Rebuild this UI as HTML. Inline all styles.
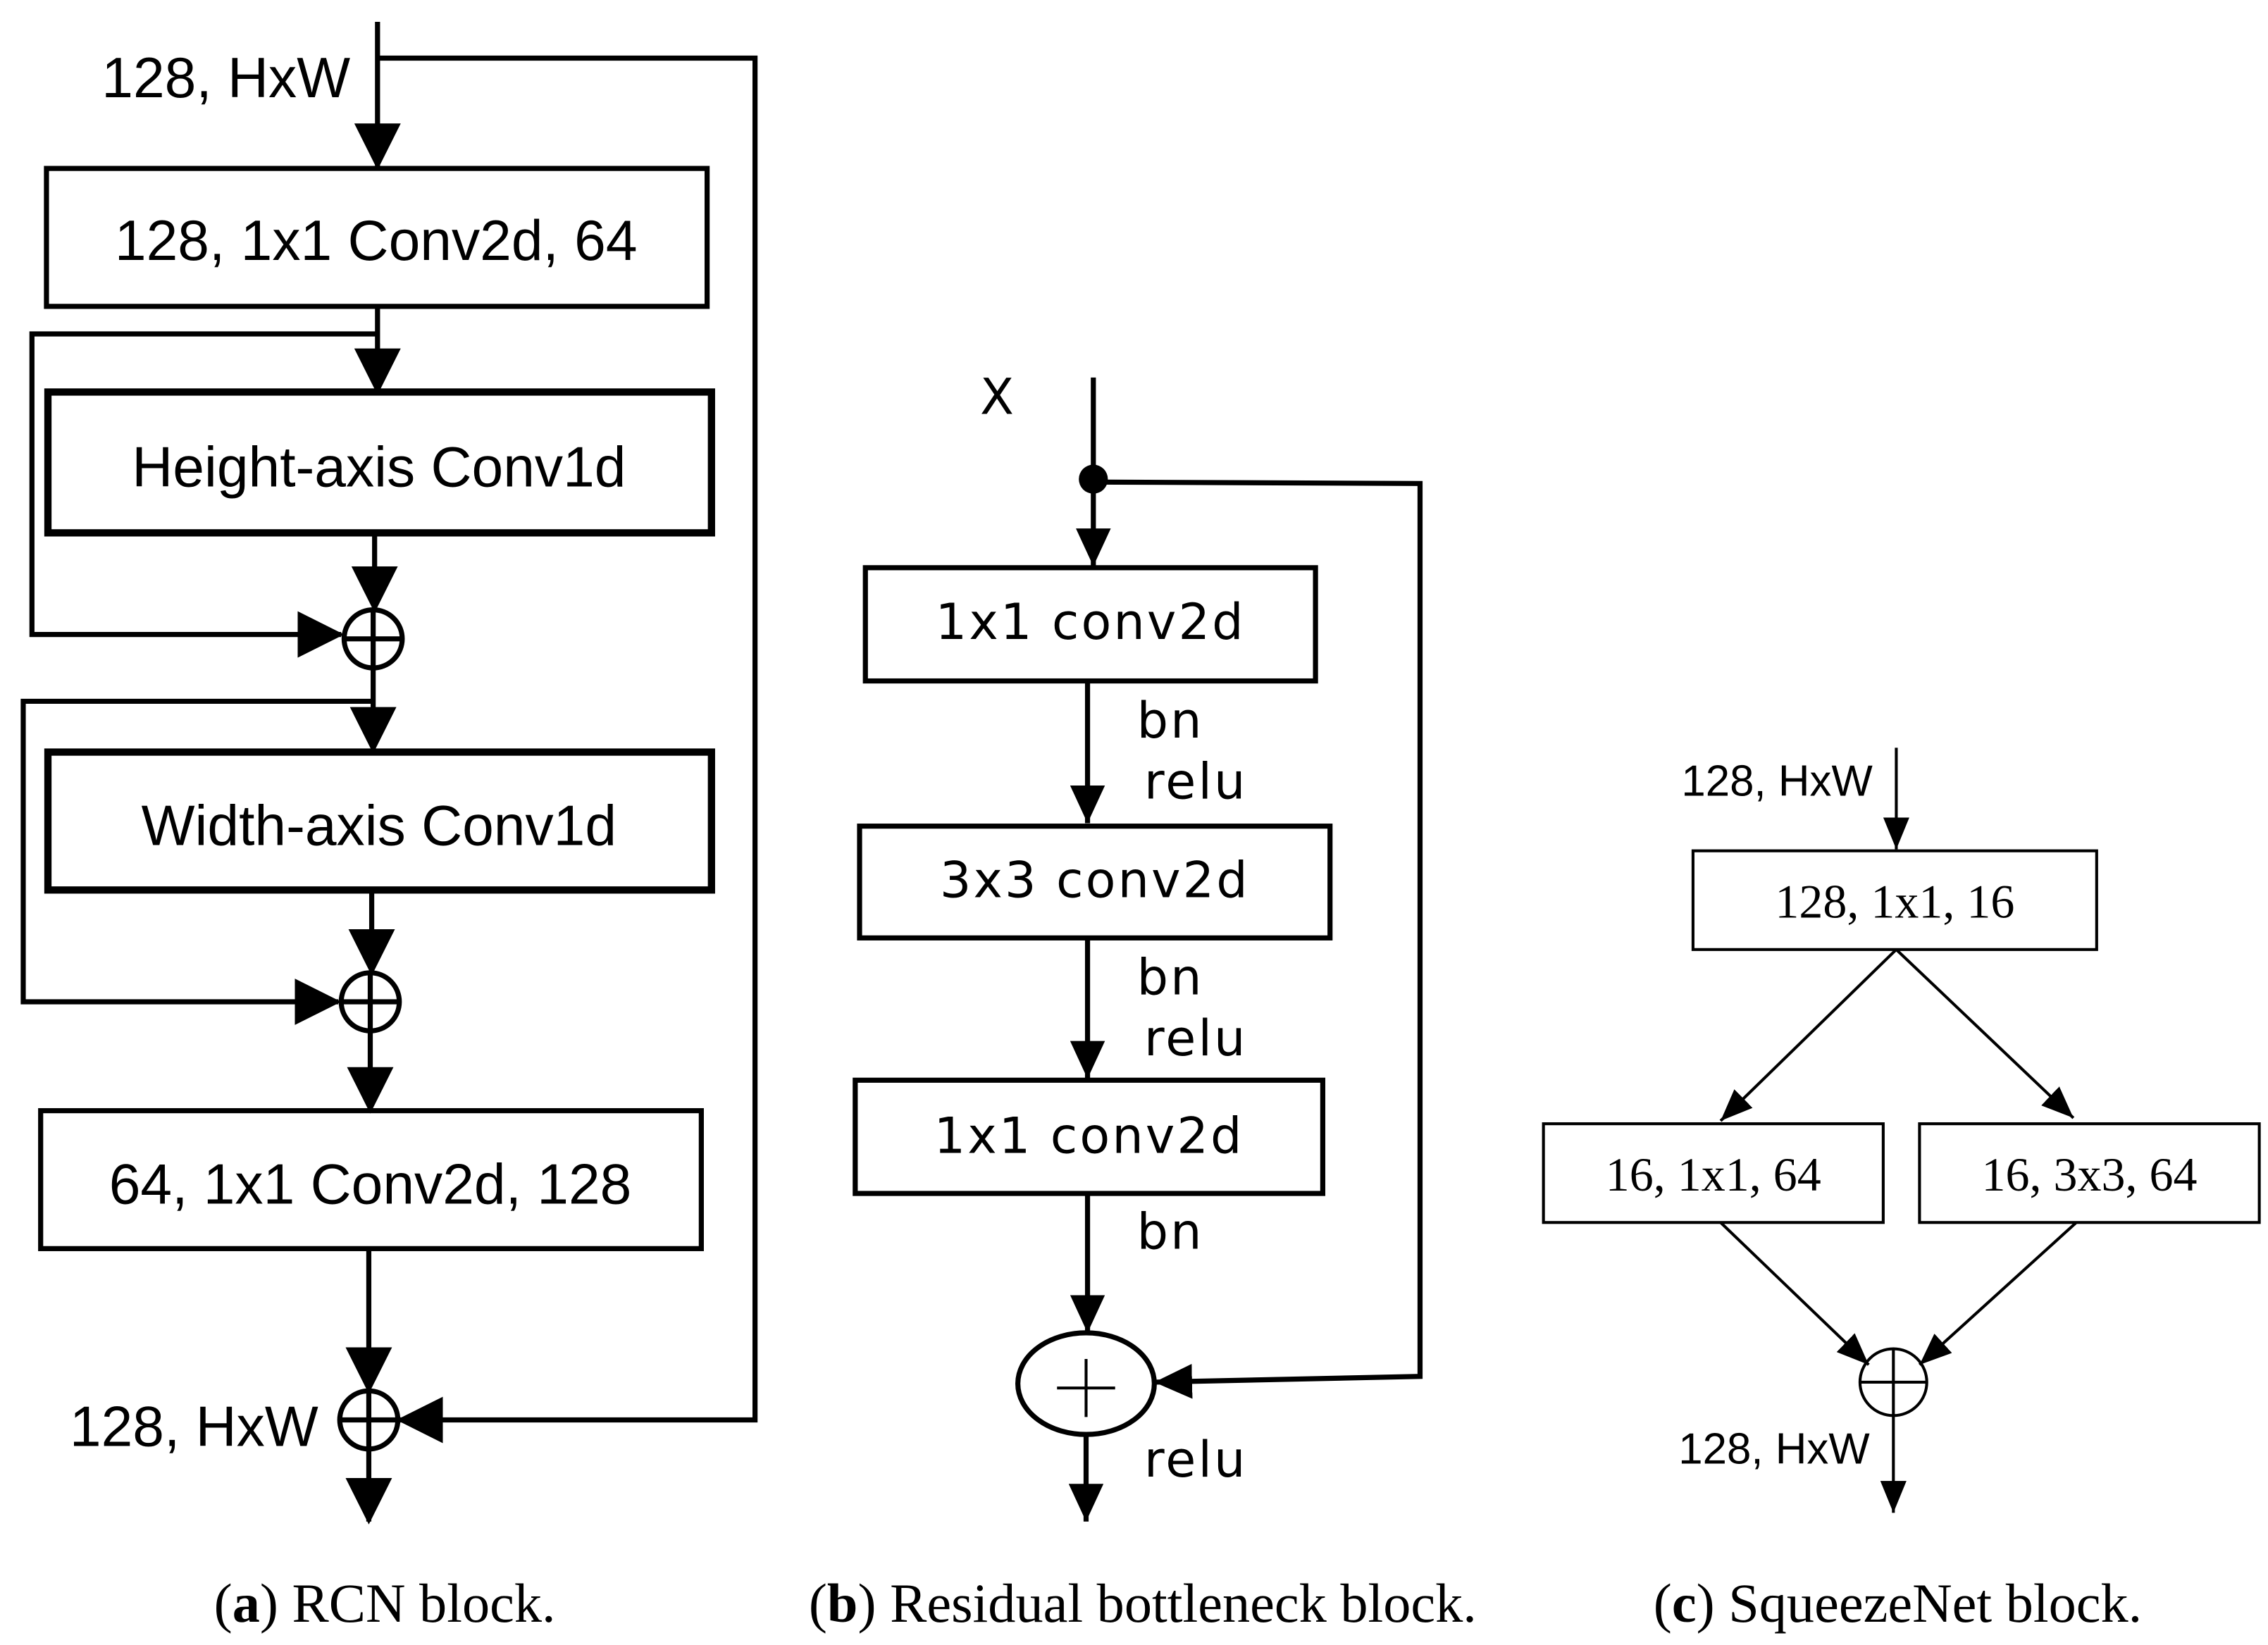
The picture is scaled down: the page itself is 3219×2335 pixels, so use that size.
<!DOCTYPE html>
<html><head><meta charset="utf-8"><style>
html,body{margin:0;padding:0;background:#fff}
svg{display:block}
.s{font-family:"DejaVu Sans","Liberation Sans",sans-serif}
.r{font-family:"Liberation Serif",serif}
</style></head><body>
<svg width="3219" height="2335" viewBox="0 0 1562 1133" xmlns="http://www.w3.org/2000/svg">
<defs>
<marker id="A" markerUnits="userSpaceOnUse" markerWidth="32" markerHeight="32" refX="30" refY="16" orient="auto"><path d="M0,0 L32,16 L0,32 z" fill="#000"/></marker>
<marker id="B" markerUnits="userSpaceOnUse" markerWidth="26" markerHeight="24" refX="26" refY="12" orient="auto"><path d="M0,0 L26,12 L0,24 z" fill="#000"/></marker>
<marker id="C" markerUnits="userSpaceOnUse" markerWidth="22" markerHeight="18" refX="22" refY="9" orient="auto"><path d="M0,0 L22,9 L0,18 z" fill="#000"/></marker>
</defs>
<g fill="none" stroke="#000">
<g stroke-width="3.5">
<line x1="260" y1="15" x2="260" y2="115" marker-end="url(#A)"/>
<polyline points="260,40 520,40 520,978 275,978" marker-end="url(#A)"/>
<rect x="32" y="116" width="455" height="95"/>
<line x1="260" y1="211" x2="260" y2="270" marker-end="url(#A)"/>
<polyline points="260,230 22,230 22,437 235,437" marker-end="url(#A)"/>
<rect x="33" y="270" width="457" height="97" stroke-width="5"/>
<line x1="258" y1="367" x2="258" y2="420" marker-end="url(#A)"/>
<circle cx="257" cy="440" r="20"/><line x1="237" y1="440" x2="277" y2="440"/><line x1="257" y1="420" x2="257" y2="460"/>
<line x1="257" y1="460" x2="257" y2="517" marker-end="url(#A)"/>
<polyline points="257,483 16,483 16,690 233,690" marker-end="url(#A)"/>
<rect x="33" y="518" width="457" height="95" stroke-width="5"/>
<line x1="256" y1="613" x2="256" y2="670" marker-end="url(#A)"/>
<circle cx="255" cy="690" r="20"/><line x1="235" y1="690" x2="275" y2="690"/><line x1="255" y1="670" x2="255" y2="710"/>
<line x1="255" y1="710" x2="255" y2="765" marker-end="url(#A)"/>
<rect x="28" y="765" width="455" height="95"/>
<line x1="254" y1="860" x2="254" y2="958" marker-end="url(#A)"/>
<circle cx="254" cy="978" r="20"/><line x1="234" y1="978" x2="274" y2="978"/><line x1="254" y1="958" x2="254" y2="998"/>
<line x1="254" y1="998" x2="254" y2="1048" marker-end="url(#A)"/>
</g>
<g stroke-width="3.5">
<line x1="753" y1="260" x2="753" y2="330"/>
<line x1="753" y1="330" x2="753" y2="390" marker-end="url(#B)"/>
<polyline points="753,332 978,333 978,948 795,952" marker-end="url(#B)"/>
<rect x="596" y="391" width="310" height="78"/>
<line x1="749" y1="469" x2="749" y2="567" marker-end="url(#B)"/>
<rect x="592" y="569" width="324" height="77"/>
<line x1="749" y1="646" x2="749" y2="743" marker-end="url(#B)"/>
<rect x="589" y="744" width="322" height="78"/>
<line x1="749" y1="822" x2="749" y2="918" marker-end="url(#B)"/>
<ellipse cx="748" cy="953" rx="47" ry="35"/>
<line x1="728" y1="956" x2="768" y2="956" stroke-width="2"/><line x1="748" y1="936" x2="748" y2="976" stroke-width="2"/>
<line x1="748" y1="988" x2="748" y2="1048" marker-end="url(#B)"/>
</g>
<circle cx="753" cy="330" r="10" fill="#000" stroke="none"/>
<g stroke-width="2">
<line x1="1306" y1="515" x2="1306" y2="585" marker-end="url(#C)"/>
<rect x="1166" y="586" width="278" height="68"/>
<line x1="1306" y1="654" x2="1185" y2="772" marker-end="url(#C)"/>
<line x1="1306" y1="654" x2="1428" y2="770" marker-end="url(#C)"/>
<rect x="1063" y="774" width="234" height="68"/>
<rect x="1322" y="774" width="234" height="68"/>
<line x1="1185" y1="842" x2="1287" y2="940" marker-end="url(#C)"/>
<line x1="1430" y1="842" x2="1322" y2="940" marker-end="url(#C)"/>
<circle cx="1304" cy="952" r="23"/><line x1="1281" y1="952" x2="1327" y2="952"/><line x1="1304" y1="929" x2="1304" y2="975"/>
<line x1="1304" y1="975" x2="1304" y2="1042" marker-end="url(#C)"/>
</g>
</g>
<g fill="#000">
<g font-family="Liberation Sans, sans-serif" font-size="39">
<text x="70" y="67">128, HxW</text>
<text x="259" y="179" text-anchor="middle">128, 1x1 Conv2d, 64</text>
<text x="261" y="335" text-anchor="middle">Height-axis Conv1d</text>
<text x="261" y="582" text-anchor="middle">Width-axis Conv1d</text>
<text x="255" y="829" text-anchor="middle">64, 1x1 Conv2d, 128</text>
<text x="48" y="996">128, HxW</text>
</g>
<g class="s" font-size="34" letter-spacing="1.5">
<text x="675" y="285">X</text>
<text x="751" y="440" text-anchor="middle">1x1 conv2d</text>
<text x="783" y="508">bn</text><text x="788" y="550">relu</text>
<text x="754" y="618" text-anchor="middle">3x3 conv2d</text>
<text x="783" y="685">bn</text><text x="788" y="727">relu</text>
<text x="750" y="794" text-anchor="middle">1x1 conv2d</text>
<text x="783" y="860">bn</text>
<text x="788" y="1017">relu</text>
</g>
<g font-family="Liberation Sans, sans-serif" font-size="30">
<text x="1158" y="548">128, HxW</text>
<text x="1156" y="1008">128, HxW</text>
</g>
<g class="r" font-size="33">
<text x="1305" y="632" text-anchor="middle">128, 1x1, 16</text>
<text x="1180" y="820" text-anchor="middle">16, 1x1, 64</text>
<text x="1439" y="820" text-anchor="middle">16, 3x3, 64</text>
</g>
<g class="r" font-size="38" text-anchor="middle">
<text x="265" y="1117">(<tspan font-weight="bold">a</tspan>) RCN block.</text>
<text x="787" y="1117">(<tspan font-weight="bold">b</tspan>) Residual bottleneck block.</text>
<text x="1307" y="1117">(<tspan font-weight="bold">c</tspan>) SqueezeNet block.</text>
</g>
</g>
</svg>
</body></html>
